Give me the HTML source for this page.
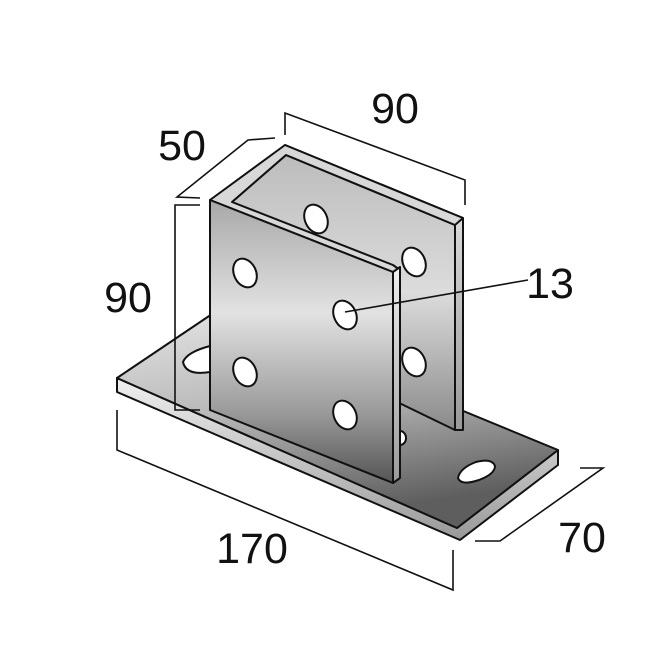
<!DOCTYPE html>
<html><head><style>
html,body{margin:0;padding:0;background:#fff;}
svg text{font-family:"Liberation Sans",sans-serif;font-size:43px;fill:#111;}
</style></head><body>
<svg width="653" height="653" viewBox="0 0 653 653" xmlns="http://www.w3.org/2000/svg">
<defs>
<linearGradient id="pl" x1="0" y1="0" x2="0.3" y2="1">
<stop offset="0" stop-color="#e6e6e6"/><stop offset="0.5" stop-color="#b8b8b8"/><stop offset="1" stop-color="#5e5e5e"/>
</linearGradient>
<linearGradient id="fr" x1="0" y1="0" x2="0" y2="1">
<stop offset="0" stop-color="#a8a8a8"/><stop offset="0.4" stop-color="#e2e2e2"/><stop offset="0.75" stop-color="#9a9a9a"/><stop offset="1" stop-color="#555"/>
</linearGradient>
<linearGradient id="bk" x1="0" y1="0" x2="0" y2="1">
<stop offset="0" stop-color="#bcbcbc"/><stop offset="0.5" stop-color="#dcdcdc"/><stop offset="1" stop-color="#8a8a8a"/>
</linearGradient>
<linearGradient id="ed" x1="0" y1="0" x2="0" y2="1">
<stop offset="0" stop-color="#f0f0f0"/><stop offset="1" stop-color="#999"/>
</linearGradient>
</defs>
<g stroke="#111" stroke-width="2" stroke-linejoin="round">
<polygon points="117,378 457,528 558,450 558,465 460,540 117,392" fill="url(#ed)"/>
<polygon points="117,378 218,310 558,450 457,528" fill="url(#pl)"/>
<path d="M458,478 q2,-10 18,-16 q16,-4 19,4 q0,8 -16,14 q-18,6 -21,-2z" fill="#fff"/>
<path d="M183,362 q4,-10 27,-16 l0,26 q-24,4 -27,-10z" fill="#fff"/>
<ellipse cx="400" cy="438" rx="6" ry="7" fill="#fff"/>
<polygon points="285,145 463,218 463,430 455,430 455,225 286,155" fill="url(#ed)"/>
<polygon points="286,155 455,225 455,430 393,400 393,272 232,202" fill="url(#bk)"/>
<polygon points="210,200 285,145 463,218 455,225 286,155 232,202 393,265 400,270 393,272" fill="#d8d8d8"/>
<polygon points="210,200 393,272 393,483 210,410" fill="url(#fr)"/>
<polygon points="393,272 400,267 400,478 393,483" fill="url(#ed)"/>
<ellipse cx="316" cy="219" rx="11" ry="15" transform="rotate(-25 316 219)" fill="#fff"/>
<ellipse cx="414" cy="262" rx="11" ry="15" transform="rotate(-25 414 262)" fill="#fff"/>
<ellipse cx="414" cy="362" rx="11" ry="15" transform="rotate(-25 414 362)" fill="#fff"/>
<ellipse cx="245" cy="273" rx="11" ry="15" transform="rotate(-25 245 273)" fill="#fff"/>
<ellipse cx="345" cy="315" rx="11" ry="15" transform="rotate(-25 345 315)" fill="#fff"/>
<ellipse cx="245" cy="372" rx="11" ry="15" transform="rotate(-25 245 372)" fill="#fff"/>
<ellipse cx="345" cy="415" rx="11" ry="15" transform="rotate(-25 345 415)" fill="#fff"/>
</g>
<g stroke="#111" stroke-width="1.6" fill="none">
<polyline points="285,135 285,113 465,180 465,205"/>
<polyline points="200,198 177,197 248,140 275,138"/>
<polyline points="200,205 175,205 175,410 200,410"/>
<polyline points="117,410 117,450 453,590 453,550"/>
<polyline points="475,541 500,541 603,468 580,468"/>
<line x1="345" y1="312" x2="528" y2="280"/>
</g>
<text x="395" y="123" text-anchor="middle">90</text>
<text x="182" y="160" text-anchor="middle">50</text>
<text x="128" y="312" text-anchor="middle">90</text>
<text x="550" y="298" text-anchor="middle">13</text>
<text x="252" y="563" text-anchor="middle">170</text>
<text x="582" y="552" text-anchor="middle">70</text>
</svg>
</body></html>
